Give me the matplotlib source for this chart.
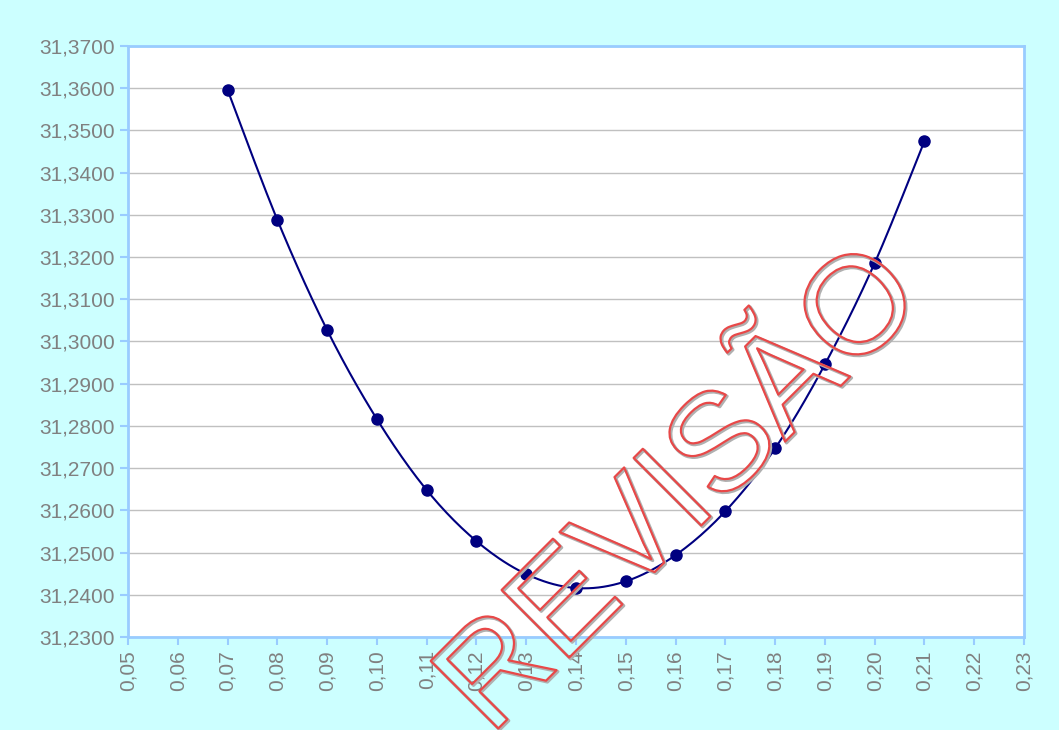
import numpy as np
import matplotlib
matplotlib.use("Agg")
import matplotlib.pyplot as plt
import matplotlib.patheffects as pe
from matplotlib.ticker import FuncFormatter, MultipleLocator

x_vals = [0.07, 0.08, 0.09, 0.10, 0.11, 0.12, 0.13, 0.14,
          0.15, 0.16, 0.17, 0.18, 0.19, 0.20, 0.21]
y_vals = [31.3596, 31.3288, 31.3027, 31.2816, 31.2648, 31.2527, 31.2449, 31.2416,
          31.2432, 31.2494, 31.2598, 31.2747, 31.2946, 31.3186, 31.3475]

x_ticks = [0.05, 0.06, 0.07, 0.08, 0.09, 0.10, 0.11, 0.12, 0.13,
           0.14, 0.15, 0.16, 0.17, 0.18, 0.19, 0.20, 0.21, 0.22, 0.23]
watermark = "REVISÃO"

BG = "#CCFFFF"
AXIS = "#99CCFF"
LINE = "#000080"
GRAY = "#808080"


def smooth(xs, ys, n=20):
    # Catmull-Rom style curve, like Excel's smoothed line
    p = np.column_stack([xs, ys])
    p = np.vstack([p[0], p, p[-1]])
    out = []
    t = np.linspace(0, 1, n, endpoint=False)
    for i in range(1, len(p) - 2):
        p0, p1, p2, p3 = p[i - 1], p[i], p[i + 1], p[i + 2]
        c1 = p1 + (p2 - p0) / 6
        c2 = p2 - (p3 - p1) / 6
        seg = ((1 - t) ** 3)[:, None] * p1 + (3 * (1 - t) ** 2 * t)[:, None] * c1 \
            + (3 * (1 - t) * t ** 2)[:, None] * c2 + (t ** 3)[:, None] * p2
        out.append(seg)
    out.append(p[-2][None, :])
    out = np.vstack(out)
    return out[:, 0], out[:, 1]


plt.rcParams["font.family"] = ["Liberation Sans", "DejaVu Sans"]

fig = plt.figure(figsize=(10.59, 7.30), dpi=100, facecolor=BG)
ax = fig.add_axes([0.1209, 0.1274, 0.8461, 0.8096])
ax.set_facecolor("white")

sx, sy = smooth(x_vals, y_vals)
ax.plot(sx, sy, color=LINE, lw=1.5, zorder=3)
ax.plot(x_vals, y_vals, "o", color=LINE, ms=8, zorder=4)

ax.set_xlim(0.05, 0.23)
ax.set_ylim(31.23, 31.37)
ax.set_xticks(x_ticks)
ax.yaxis.set_major_locator(MultipleLocator(0.01))
ax.xaxis.set_major_formatter(FuncFormatter(lambda v, p: f"{v:.2f}".replace(".", ",")))
ax.yaxis.set_major_formatter(FuncFormatter(lambda v, p: f"{v:.4f}".replace(".", ",")))
ax.tick_params(axis="x", labelrotation=90)
ax.tick_params(colors=AXIS, labelcolor=GRAY, labelsize=15, length=6, width=1.5, direction="out")
ax.grid(axis="y", color="#C0C0C0", lw=1)
ax.set_axisbelow(True)
for s in ax.spines.values():
    s.set_color(AXIS)
    s.set_linewidth(2)

# watermark: outlined text with a faint grey shadow
fig.text(0.645, 0.325, watermark, fontsize=100, rotation=45, ha="center", va="center",
         color="none", zorder=10,
         path_effects=[pe.withStroke(linewidth=2.2, foreground="#B0B0B0", offset=(1, -1)),
                       pe.withStroke(linewidth=1.6, foreground="#E84848")])

fig.savefig("out.png", dpi=100, facecolor=BG)
